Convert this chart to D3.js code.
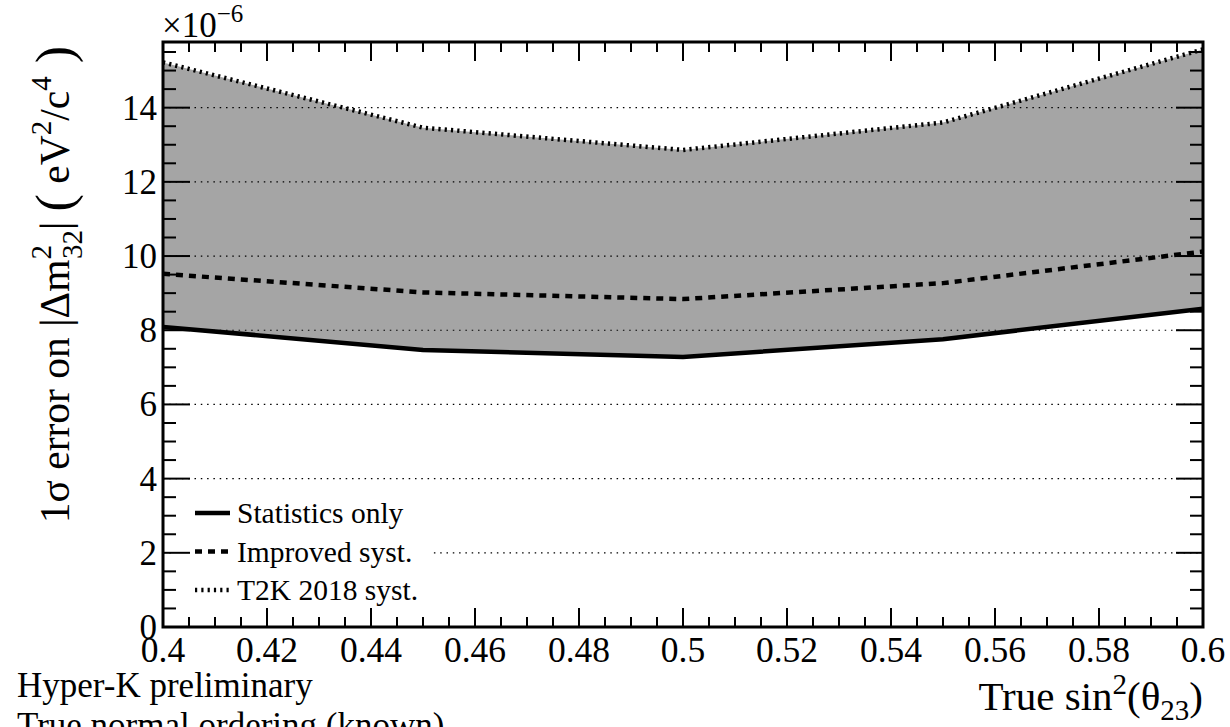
<!DOCTYPE html>
<html>
<head>
<meta charset="utf-8">
<script src="https://cdn.jsdelivr.net/npm/d3@7"></script>
<style>
  body { margin: 0; background: #fff; }
  svg { display: block; font-family: "Liberation Serif", "Times New Roman", serif; }
</style>
</head>
<body>
<svg width="1230" height="727"></svg>
<script>
// true sin^2(theta23) points
var sin2 = [0.40, 0.45, 0.50, 0.55, 0.60];
// 1 sigma error (x 1e-6 eV^2/c^4)
var statOnly = [8.09, 7.47, 7.28, 7.76, 8.58];
var improved = [9.52, 9.02, 8.84, 9.27, 10.12];
var t2k2018 = [15.22, 13.46, 12.86, 13.6, 15.57];
var legendNames = ["Statistics only", "Improved syst.", "T2K 2018 syst."];
var xTicks = [0.4, 0.42, 0.44, 0.46, 0.48, 0.5, 0.52, 0.54, 0.56, 0.58, 0.6];
var yTicks = [0, 2, 4, 6, 8, 10, 12, 14];

var svg = d3.select("svg");
var padL = 163, padR = 1203, padT = 42, padB = 627;

var x = d3.scaleLinear().domain([0.4, 0.6]).range([padL, padR]);
var y = d3.scaleLinear().domain([0, 15.77]).range([padB, padT]);

var pts = sin2.map(function(d, i) {
  return { x: d, s: statOnly[i], m: improved[i], t: t2k2018[i] };
});

// gray band between stats only and T2K syst.
var area = d3.area()
  .x(function(d) { return x(d.x); })
  .y0(function(d) { return y(d.s); })
  .y1(function(d) { return y(d.t); });

svg.append("path")
  .datum(pts)
  .attr("d", area)
  .attr("fill", "#a5a5a5");

// dotted horizontal grid
svg.append("g")
  .selectAll("line")
  .data(yTicks.filter(function(d) { return d > 0; }))
  .enter().append("line")
    .attr("x1", padL).attr("x2", padR)
    .attr("y1", function(d) { return y(d); })
    .attr("y2", function(d) { return y(d); })
    .attr("stroke", "#000")
    .attr("stroke-width", 1.2)
    .attr("stroke-dasharray", "1.5,4.8");

// legend box (white, hides grid)
svg.append("rect")
  .attr("x", 172).attr("y", 492)
  .attr("width", 258).attr("height", 118)
  .attr("fill", "#fff");

function line(key) {
  return d3.line()
    .x(function(d) { return x(d.x); })
    .y(function(d) { return y(d[key]); });
}

var styles = [
  { key: "s", width: 4.5, dash: null },
  { key: "m", width: 4.5, dash: "7,6" },
  { key: "t", width: 4.5, dash: "2.2,4.1" }
];

styles.forEach(function(st) {
  svg.append("path")
    .datum(pts)
    .attr("d", line(st.key))
    .attr("fill", "none")
    .attr("stroke", "#000")
    .attr("stroke-width", st.width)
    .attr("stroke-dasharray", st.dash);
});

// frame
svg.append("rect")
  .attr("x", padL).attr("y", padT)
  .attr("width", padR - padL).attr("height", padB - padT)
  .attr("fill", "none")
  .attr("stroke", "#000")
  .attr("stroke-width", 3);

// ticks on all four sides
var xMinor = d3.range(0, 41).map(function(i) { return 0.4 + i * 0.005; });
var yMinor = d3.range(0, 32).map(function(i) { return i * 0.5; });
var ticks = svg.append("g").attr("stroke", "#000").attr("stroke-width", 2);

xMinor.forEach(function(v, i) {
  var len = i % 4 === 0 ? 19 : 10;
  ticks.append("line").attr("x1", x(v)).attr("x2", x(v)).attr("y1", padB).attr("y2", padB - len);
  ticks.append("line").attr("x1", x(v)).attr("x2", x(v)).attr("y1", padT).attr("y2", padT + len);
});
yMinor.forEach(function(v, i) {
  var len = i % 4 === 0 ? 27 : 13;
  ticks.append("line").attr("y1", y(v)).attr("y2", y(v)).attr("x1", padL).attr("x2", padL + len);
  ticks.append("line").attr("y1", y(v)).attr("y2", y(v)).attr("x1", padR).attr("x2", padR - len);
});

// tick labels
svg.append("g")
  .selectAll("text")
  .data(xTicks)
  .enter().append("text")
    .attr("x", function(d) { return x(d); })
    .attr("y", 662)
    .attr("text-anchor", "middle")
    .attr("font-size", 35.5)
    .text(function(d) { return String(+d.toFixed(2)); });

svg.append("g")
  .selectAll("text")
  .data(yTicks)
  .enter().append("text")
    .attr("x", 157)
    .attr("y", function(d) { return y(d) + 12; })
    .attr("text-anchor", "end")
    .attr("font-size", 35)
    .text(function(d) { return d; });

// exponent
var ex = svg.append("text").attr("x", 162).attr("y", 37).attr("font-size", 35);
ex.append("tspan").text("\u00d710");
ex.append("tspan").attr("font-size", 25).attr("dy", -15).text("\u22126");

// y title
var yt = svg.append("text")
  .attr("transform", "translate(69,46) rotate(-90)")
  .attr("text-anchor", "end")
  .attr("font-size", 41.5);
yt.append("tspan").text("1\u03c3 error on |\u0394m");
yt.append("tspan").attr("font-size", 29).attr("dy", -18).text("2");
yt.append("tspan").attr("font-size", 29).attr("dx", -14).attr("dy", 31).text("32");
yt.append("tspan").attr("dy", -13).text("| ");
yt.append("tspan").attr("font-size", 52).attr("dy", 3).text("(");
yt.append("tspan").attr("dy", -3).text(" eV");
yt.append("tspan").attr("font-size", 29).attr("dy", -18).text("2");
yt.append("tspan").attr("dy", 18).text("/c");
yt.append("tspan").attr("font-size", 29).attr("dy", -18).text("4");
yt.append("tspan").attr("font-size", 52).attr("dy", 21).text(" )");

// x title
var xt = svg.append("text")
  .attr("x", 1203).attr("y", 710)
  .attr("text-anchor", "end")
  .attr("font-size", 41);
xt.append("tspan").text("True sin");
xt.append("tspan").attr("font-size", 29).attr("dy", -16).text("2");
xt.append("tspan").attr("dy", 16).text("(\u03b8");
xt.append("tspan").attr("font-size", 29).attr("dy", 10).text("23");
xt.append("tspan").attr("dy", -10).text(")");

// notes
svg.append("text").attr("x", 17).attr("y", 697).attr("font-size", 35).text("Hyper-K preliminary");
svg.append("text").attr("x", 17).attr("y", 737).attr("font-size", 35).text("True normal ordering (known)");

// legend
var leg = svg.append("g");
legendNames.forEach(function(name, i) {
  var ly = 513 + i * 38.5;
  leg.append("line")
    .attr("x1", 195).attr("x2", 230)
    .attr("y1", ly).attr("y2", ly)
    .attr("stroke", "#000")
    .attr("stroke-width", styles[i].width)
    .attr("stroke-dasharray", styles[i].dash);
  leg.append("text")
    .attr("x", 237).attr("y", ly + 10)
    .attr("font-size", 29.5)
    .text(name);
});
</script>
</body>
</html>
